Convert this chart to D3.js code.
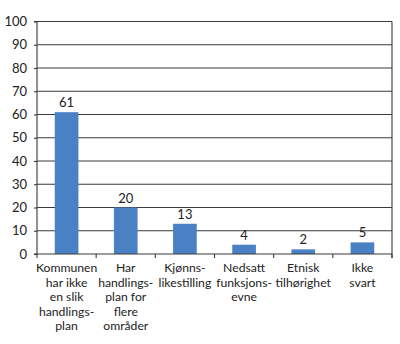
<!DOCTYPE html>
<html>
<head>
<meta charset="utf-8">
<script src="https://cdn.jsdelivr.net/npm/d3@7"></script>
<style>
  html, body { margin: 0; padding: 0; background: #fff; }
  svg { display: block; font-family: Lato, "Noto Sans", sans-serif; }
</style>
</head>
<body>
<svg id="chart" width="400" height="344"></svg>
<script>
// Category labels (each inner array is one wrapped label)
const categories = [
  ["Kommunen", "har ikke", "en slik", "handlings-", "plan"],
  ["Har", "handlings-", "plan for", "flere", "områder"],
  ["Kjønns-", "likestilling"],
  ["Nedsatt", "funksjons-", "evne"],
  ["Etnisk", "tilhørighet"],
  ["Ikke", "svart"]
];
const values = [61, 20, 13, 4, 2, 5];
const yTicks = [0, 10, 20, 30, 40, 50, 60, 70, 80, 90, 100];

const margin = { left: 37, right: 8, top: 21.5, bottom: 90 };
const width = 400, height = 344;
const x0 = margin.left, x1 = width - margin.right;
const yTop = margin.top, yBot = height - margin.bottom;

const svg = d3.select("#chart");
const ink = "#3a3a3a";
const font = "Lato, 'Noto Sans', sans-serif";

const x = d3.scaleBand()
  .domain(d3.range(categories.length))
  .range([x0, x1])
  .paddingInner(0.6)
  .paddingOuter(0.3);

const xb = d3.scaleBand().domain(d3.range(categories.length)).range([x0, x1]);

const y = d3.scaleLinear().domain([0, 100]).range([yBot, yTop]);

// horizontal grid lines
svg.append("g")
  .selectAll("line")
  .data(yTicks.filter(d => d > 0))
  .join("line")
  .attr("x1", x0).attr("x2", x1)
  .attr("y1", d => y(d)).attr("y2", d => y(d))
  .attr("stroke", ink).attr("stroke-width", 1.1);

// right frame edge
svg.append("line")
  .attr("x1", x1).attr("x2", x1)
  .attr("y1", y(100)).attr("y2", yBot + 4)
  .attr("stroke", ink).attr("stroke-width", 1.1);

// y axis
const yAxis = svg.append("g")
  .attr("transform", `translate(${x0},0)`)
  .call(d3.axisLeft(y).tickValues(yTicks).tickSize(3).tickPadding(7));
yAxis.select(".domain").attr("stroke", ink).attr("stroke-width", 1.1)
  .attr("d", `M-3,${y(100)}H0V${yBot}H-3`);
yAxis.selectAll(".tick line").attr("stroke", ink).attr("stroke-width", 1.1);
yAxis.selectAll(".tick text")
  .attr("fill", "#222").style("font-size", "13px")
  .style("font-family", font);

// bars
svg.append("g")
  .selectAll("rect")
  .data(values)
  .join("rect")
  .attr("x", (d, i) => x(i))
  .attr("width", x.bandwidth())
  .attr("y", d => y(d))
  .attr("height", d => y(0) - y(d))
  .attr("fill", "#4a80c4");

// value labels
svg.append("g")
  .selectAll("text")
  .data(values)
  .join("text")
  .attr("x", (d, i) => x(i) + x.bandwidth() / 2)
  .attr("y", d => y(d) - 5)
  .attr("text-anchor", "middle")
  .attr("fill", "#222")
  .style("font-family", font)
  .style("font-size", "13px")
  .text(d => d);

// x axis baseline and ticks between categories
svg.append("line")
  .attr("x1", x0).attr("x2", x1)
  .attr("y1", yBot).attr("y2", yBot)
  .attr("stroke", ink).attr("stroke-width", 1.1);
svg.append("g")
  .selectAll("line")
  .data(d3.range(categories.length + 1))
  .join("line")
  .attr("x1", i => i < categories.length ? xb(i) : x1)
  .attr("x2", i => i < categories.length ? xb(i) : x1)
  .attr("y1", yBot).attr("y2", yBot + 4)
  .attr("stroke", ink).attr("stroke-width", 1.1);

// category labels
const lab = svg.append("g")
  .selectAll("text")
  .data(categories)
  .join("text")
  .attr("x", (d, i) => xb(i) + xb.bandwidth() / 2)
  .attr("y", yBot + 18)
  .attr("text-anchor", "middle")
  .attr("fill", "#222")
  .style("font-family", font)
  .style("font-size", "12.2px");
lab.selectAll("tspan")
  .data(d => d)
  .join("tspan")
  .attr("x", function () { return this.parentNode.getAttribute("x"); })
  .attr("dy", (d, i) => i === 0 ? 0 : 14.6)
  .text(d => d);
</script>
</body>
</html>
